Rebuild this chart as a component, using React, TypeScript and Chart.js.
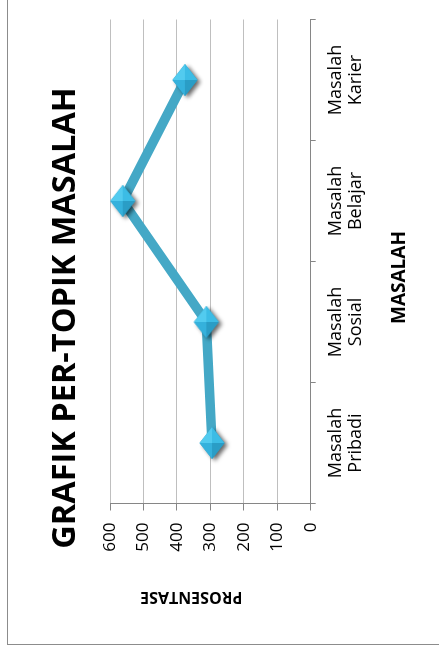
import React, { useEffect, useRef } from 'react';
import { Chart, registerables } from 'chart.js';

Chart.register(...registerables);

// ---- data ----
const categories: string[][] = [
  ['Masalah', 'Pribadi'],
  ['Masalah', 'Sosial'],
  ['Masalah', 'Belajar'],
  ['Masalah', 'Karier'],
];
const values: number[] = [295, 312, 562, 376];
const yMin = 0;
const yMax = 600;
const yStep = 100;
const chartTitle = 'GRAFIK PER-TOPIK MASALAH';
const xAxisTitle = 'MASALAH';
const yAxisTitle = 'PROSENTASE';

const FONT = "'Open Sans', 'DejaVu Sans', sans-serif";
const CW = 652;
const CH = 440;

function makeMarker(): HTMLCanvasElement {
  const c = document.createElement('canvas');
  c.width = 48;
  c.height = 42;
  const g = c.getContext('2d')!;
  const cx = 24, cy = 21, a = 16, b = 12.5;
  const diamond = () => {
    g.beginPath();
    g.moveTo(cx + a, cy);
    g.lineTo(cx, cy + b);
    g.lineTo(cx - a, cy);
    g.lineTo(cx, cy - b);
    g.closePath();
  };
  g.save();
  g.shadowColor = 'rgba(0,0,0,0.6)';
  g.shadowBlur = 4;
  g.shadowOffsetX = -2;
  g.shadowOffsetY = 3;
  diamond();
  g.fillStyle = '#2a9bc4';
  g.fill();
  g.restore();
  const faces: [number, number, number, number, string][] = [
    [cx, cy - b, cx + a, cy, '#52cbef'],
    [cx + a, cy, cx, cy + b, '#3cbce5'],
    [cx, cy + b, cx - a, cy, '#2a9dc6'],
    [cx - a, cy, cx, cy - b, '#35b1dc'],
  ];
  faces.forEach(([x1, y1, x2, y2, col]) => {
    g.beginPath();
    g.moveTo(cx, cy);
    g.lineTo(x1, y1);
    g.lineTo(x2, y2);
    g.closePath();
    g.fillStyle = col;
    g.fill();
  });
  return c;
}

const axisTitlesPlugin = {
  id: 'axisTitles',
  afterDraw(chart: any) {
    const { ctx, chartArea } = chart;
    ctx.save();
    ctx.fillStyle = '#000';
    ctx.textAlign = 'center';
    ctx.textBaseline = 'middle';
    ctx.font = `bold 19px ${FONT}`;
    ctx.fillText(xAxisTitle, (chartArea.left + chartArea.right) / 2 - 16, chartArea.bottom + 89);
    ctx.translate(chartArea.left - 93.5, (chartArea.top + chartArea.bottom) / 2 - 19);
    ctx.rotate(-Math.PI / 2);
    ctx.font = `bold 16px ${FONT}`;
    ctx.fillText(yAxisTitle, 0, 0);
    ctx.restore();
  },
};

export default function App() {
  const ref = useRef<HTMLCanvasElement>(null);
  useEffect(() => {
    if (!ref.current) return;
    Chart.defaults.font.family = FONT;
    const marker = makeMarker();
    const chart = new Chart(ref.current, {
      type: 'line',
      data: {
        labels: categories,
        datasets: [
          {
            data: values,
            borderColor: '#44a8c6',
            backgroundColor: '#44a8c6',
            borderWidth: 9.5,
            tension: 0,
            borderJoinStyle: 'round',
            pointStyle: marker as any,
            pointRadius: 16,
            pointHoverRadius: 16,
          },
        ],
      },
      options: {
        responsive: false,
        animation: false,
        layout: { padding: 0 },
        plugins: {
          legend: { display: false },
          tooltip: { enabled: false },
          title: {
            display: true,
            text: chartTitle,
            color: '#000',
            font: { family: FONT, size: 32.5, weight: 'bold', lineHeight: 1.2 },
            padding: { top: 38.5, bottom: 24.5 },
          },
        },
        scales: {
          x: {
            type: 'category',
            offset: true,
            grid: {
              offset: true,
              drawOnChartArea: false,
              drawTicks: true,
              tickLength: 5,
              color: '#868686',
            },
            border: { display: true, color: '#868686', width: 1 },
            ticks: {
              color: '#000',
              padding: 9.5,
              autoSkip: false,
              maxRotation: 0,
              font: { family: FONT, size: 18, lineHeight: 1.14 },
            },
            afterFit: (s: any) => {
              s.height = 137.3;
            },
          },
          y: {
            min: yMin,
            max: yMax,
            ticks: {
              stepSize: yStep,
              color: '#000',
              padding: 12,
              font: { family: FONT, size: 17 },
            },
            grid: {
              color: '#bfbfbf',
              lineWidth: 1,
              drawTicks: true,
              tickLength: 7,
              tickColor: '#868686',
            },
            border: { display: true, color: '#868686', width: 1 },
            afterFit: (s: any) => {
              s.width = 140.5;
            },
          },
          yRightSpace: {
            type: 'linear',
            position: 'right',
            display: true,
            grid: { display: false, drawTicks: false },
            border: { display: false },
            ticks: { display: false },
            afterFit: (s: any) => {
              s.width = CW - 624.5;
            },
          },
        },
      },
      plugins: [axisTitlesPlugin],
    });
    return () => chart.destroy();
  }, []);

  return (
    <div
      style={{
        position: 'fixed',
        left: 0,
        top: 0,
        width: 439,
        height: 661,
        overflow: 'hidden',
        background: '#fff',
      }}
    >
      <div
        style={{
          position: 'absolute',
          left: 0,
          top: 0,
          width: 661,
          height: 439,
          transformOrigin: '0 0',
          transform: 'translateY(661px) rotate(-90deg)',
        }}
      >
        <div
          style={{
            position: 'absolute',
            left: 16,
            top: 7,
            width: 720,
            height: 470,
            border: '1px solid #8c8c8c',
            boxSizing: 'border-box',
          }}
        />
        <div style={{ position: 'absolute', left: 17, top: 8, width: CW, height: CH }}>
          <canvas ref={ref} width={CW} height={CH} style={{ width: CW, height: CH, display: 'block' }} />
        </div>
      </div>
    </div>
  );
}
